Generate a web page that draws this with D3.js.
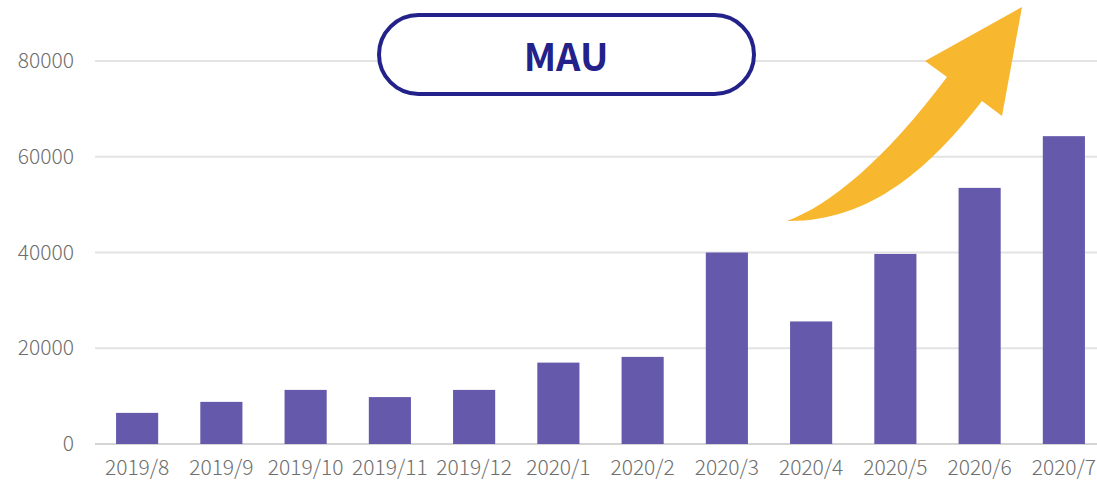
<!DOCTYPE html>
<html>
<head>
<meta charset="utf-8">
<script src="https://cdnjs.cloudflare.com/ajax/libs/d3/7.8.5/d3.min.js"></script>
<style>
  body { margin: 0; background: #fff; }
  svg { display: block; }
</style>
</head>
<body>
<div id="chart"></div>
<script>
// Chart data.
const months = ['2019/8', '2019/9', '2019/10', '2019/11', '2019/12', '2020/1',
    '2020/2', '2020/3', '2020/4', '2020/5', '2020/6', '2020/7'];
const mau = [6500, 8800, 11300, 9800, 11300, 17000, 18200, 40000, 25600, 39700, 53500, 64300];
const yTicks = [0, 20000, 40000, 60000, 80000];
const title = 'MAU';

const width = 1097;
const height = 484;
const margin = {top: 61, right: -9, bottom: 40, left: 95};

const svg = d3.select('#chart')
    .append('svg')
        .attr('width', width)
        .attr('height', height);

// Scales.
const x = d3.scaleBand()
    .domain(months)
    .range([margin.left, width - margin.right])
    .paddingInner(0.5)
    .paddingOuter(0.25);
const y = d3.scaleLinear()
    .domain([0, 80000])
    .range([height - margin.bottom, margin.top]);

const font = '"Noto Sans CJK JP", "Noto Sans", sans-serif';

// Gridlines.
svg.append('g')
    .selectAll('line')
    .data(yTicks)
    .enter()
    .append('line')
        .attr('x1', margin.left)
        .attr('x2', width)
        .attr('y1', d => y(d))
        .attr('y2', d => y(d))
        .attr('stroke', d => d === 0 ? '#d4d4d4' : '#e3e3e3')
        .attr('stroke-width', 2);

// Y axis.
const yGroup = svg.append('g')
    .attr('transform', `translate(${margin.left}, 0)`)
    .call(d3.axisLeft(y).tickValues(yTicks).tickSize(0).tickPadding(21).tickFormat(d3.format('d')));
yGroup.select('.domain').remove();
yGroup.selectAll('text')
    .style('font-family', font)
    .style('font-size', '21px')
    .style('font-weight', 300)
    .attr('fill', '#6e6e6e');

// X axis.
const xGroup = svg.append('g')
    .attr('transform', `translate(0, ${y(0)})`)
    .call(d3.axisBottom(x).tickSize(0).tickPadding(16));
xGroup.select('.domain').remove();
xGroup.selectAll('text')
    .style('font-family', font)
    .style('font-size', '21px')
    .style('font-weight', 300)
    .attr('fill', '#6e6e6e');

// Bars.
svg.append('g')
    .selectAll('rect')
    .data(mau)
    .enter()
    .append('rect')
        .attr('x', (d, i) => x(months[i]))
        .attr('y', d => y(d))
        .attr('width', x.bandwidth())
        .attr('height', d => y(0) - y(d))
        .attr('fill', '#6459ab');

// Growth arrow.
svg.append('path')
    .attr('d', 'M787,221 C830,205 885,160 947,77 L925,61 L1022,7 L1002,116 L982,101 ' +
        'C930,168 870,222 787,221 Z')
    .attr('fill', '#f7b72e');

// Title box.
svg.append('rect')
    .attr('x', 379)
    .attr('y', 15)
    .attr('width', 375)
    .attr('height', 79)
    .attr('rx', 39.5)
    .attr('fill', '#fff')
    .attr('stroke', '#22228a')
    .attr('stroke-width', 4);
svg.append('text')
    .attr('x', 566)
    .attr('y', 54)
    .attr('text-anchor', 'middle')
    .attr('dominant-baseline', 'central')
    .style('font-family', font)
    .style('font-size', '38px')
    .style('font-weight', 'bold')
    .attr('fill', '#22228a')
    .text(title);
</script>
</body>
</html>
